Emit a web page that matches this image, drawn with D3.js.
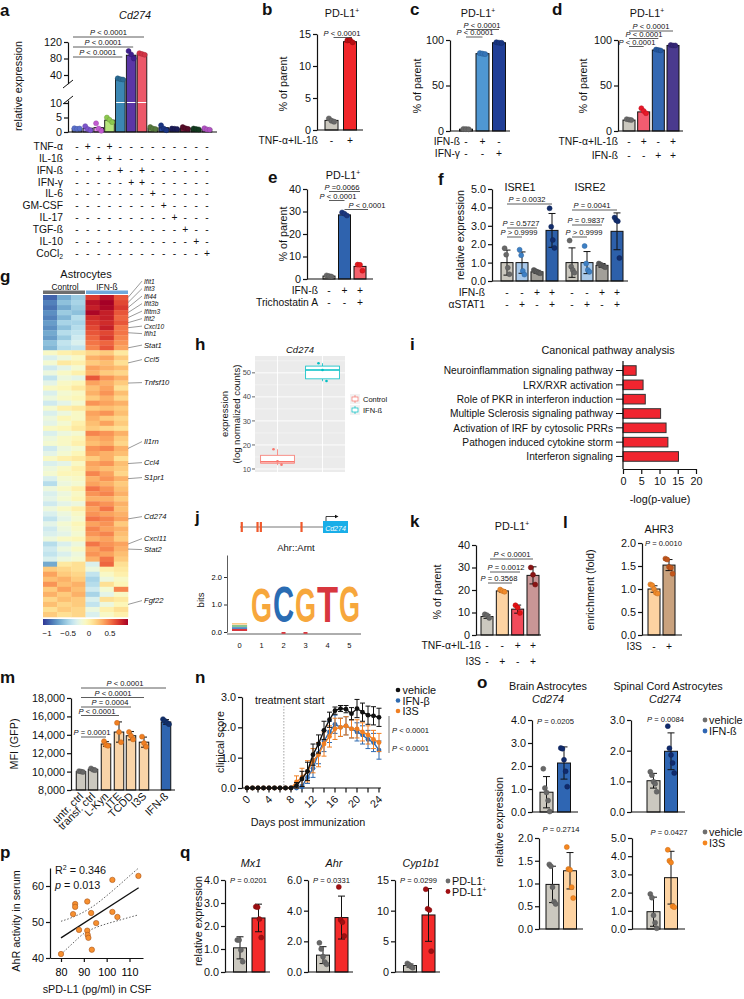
<!DOCTYPE html>
<html><head><meta charset="utf-8">
<script src="https://cdn.jsdelivr.net/npm/d3@7"></script>
<style>body{margin:0;background:#fff}svg{display:block}</style>
</head><body>
<script>
// ================= DATA =================
// a
const aTreat = ["TNF-α","IL-1ß","IFN-ß","IFN-γ","IL-6","GM-CSF","IL-17","TGF-ß","IL-10","CoCl"];
const aSigns = ["-+-+---------","--++---------","----+-+------","-----++------","-------+-----",
  "--------+----","---------+---","----------+--","-----------+-","------------+"];
const aValues = [1.2,1.3,1.5,4.1,31,88,91,1.3,1.5,1.1,1.4,1.0,1.0];
const aDots = [[1.3,1.1,1.2],[2.0,1.0,0.6],[3.0,1.2,0.4],[5.0,4.2,3.4],[32,30,29],[98,90,80],[93,91,89],
  [1.7,1.2,1.0],[2.3,1.2,0.6],[1.2,1.1,1.0],[1.7,1.3,1.1],[1.2,1.0,0.9],[1.3,0.9,0.8]];
const aTicksHi = [40,80,120], aTicksLo = [0,5,10];
const aP = ["P < 0.0001","P < 0.0001","P < 0.0001"], aPTo = [6,5,4];
// b
const bVals = [1.5,13.8], bDots = [[1.8,1.45,1.3],[14.0,14.05,13.7]], bSigns = ["-+"];
// c
const cVals = [2,85,97], cDots = [[2.2,2,1.9],[85.5,85,84.5],[97.5,97,96.8]], cSigns = ["-+-","--+"];
// d
const dVals = [12,21,89,94], dDots = [[13,12.5,12],[25,22,19.5],[89.5,89,88.5],[94.5,94,94]], dSigns = ["-+-+","--++"];
// e
const eVals = [1.3,28.5,5.6], eDots = [[1.6,1.3,1.1],[29.6,29,28.2],[6.4,6.3,3.7]], eSigns = ["-++","--+"];
// f
const fVals = [1.0,1.0,0.5,2.75,1.0,1.0,0.85,2.7];
const fSD = [0.68,0.58,0.08,0.92,0.8,0.6,0.1,1.0];
const fDots = [[1.78,1.43,0.72,0.37],[1.7,1.4,0.55,0.35],[0.6,0.55,0.5,0.45,0.42],[3.95,2.95,2.23,1.8],
  [2.2,0.78,0.6,0.45],[1.9,0.95,0.6,0.5],[0.95,0.9,0.85,0.8,0.75],[3.45,3.3,3.25,1.25]];
const fSigns = ["--++--++","-+-+-+-+"];
// g heatmap (z-scores, 3 control + 3 IFN-ß columns)
const gCols = ["C1","C2","C3","I1","I2","I3"];
const gRows = [
[-0.95,-0.7,-0.55,0.7,0.85,0.6],[-0.85,-0.6,-0.5,0.85,0.95,0.65],[-0.9,-0.7,-0.55,0.8,0.9,0.7],
[-0.8,-0.55,-0.6,0.9,0.8,0.6],[-0.85,-0.65,-0.45,0.75,0.8,0.55],[-0.75,-0.5,-0.5,0.7,0.75,0.6],
[-0.8,-0.6,-0.45,0.65,0.8,0.5],[-0.7,-0.45,-0.4,0.6,0.65,0.5],[-0.75,-0.55,-0.35,0.55,0.7,0.45],
[-0.6,-0.4,-0.3,0.5,0.55,0.4],[-0.65,-0.45,-0.4,0.45,0.6,0.35],
[-0.1,0.0,0.05,0.15,0.2,0.05],[-0.3,-0.2,-0.1,0.3,0.35,0.2],[-0.15,0.05,0.0,0.2,0.25,0.1],
[-0.35,-0.25,-0.15,0.35,0.3,0.25],[-0.2,-0.1,0.0,0.3,0.2,0.15],[-0.4,-0.2,-0.25,0.6,0.4,0.3],
[-0.25,-0.1,-0.05,0.35,0.3,0.2],[-0.1,-0.05,0.05,0.25,0.35,0.1],[-0.3,-0.15,-0.1,0.3,0.4,0.25],
[-0.2,-0.1,-0.05,0.2,0.3,0.15],[-0.35,-0.25,-0.15,0.4,0.35,0.3],[-0.15,0.0,0.05,0.2,0.25,0.2],
[-0.3,-0.2,-0.1,0.35,0.4,0.25],[-0.2,-0.05,-0.1,0.3,0.2,0.15],[-0.25,-0.15,0.0,0.25,0.35,0.2],
[-0.1,-0.05,0.05,0.2,0.15,0.1],[-0.3,-0.2,-0.15,0.45,0.4,0.3],[-0.2,-0.1,-0.05,0.3,0.35,0.2],
[-0.15,-0.1,0.0,0.25,0.3,0.15],[-0.35,-0.2,-0.15,0.4,0.45,0.3],[-0.25,-0.15,-0.05,0.35,0.3,0.25],
[-0.1,0.0,0.05,0.2,0.3,0.1],[-0.3,-0.25,-0.1,0.35,0.4,0.25],[-0.2,-0.1,0.0,0.3,0.25,0.2],
[-0.15,-0.05,-0.05,0.45,0.35,0.15],[-0.3,-0.15,-0.1,0.3,0.4,0.3],[-0.45,-0.2,-0.15,0.35,0.3,0.2],
[-0.2,-0.1,0.0,0.5,0.4,0.25],[-0.3,-0.2,-0.1,0.4,0.45,0.3],[-0.25,-0.15,-0.05,0.3,0.3,0.2],
[-0.35,-0.25,-0.2,0.45,0.4,0.3],[-0.2,-0.1,0.0,0.35,0.5,0.25],[-0.3,-0.2,-0.1,0.4,0.35,0.3],
[-0.4,-0.25,-0.15,0.5,0.45,0.35],[-0.25,-0.15,-0.05,0.35,0.4,0.2],[-0.35,-0.2,-0.1,0.45,0.35,0.3],
[-0.3,-0.25,-0.15,0.4,0.45,0.25],[-0.2,-0.1,-0.05,0.3,0.35,0.2],[-0.45,-0.3,-0.2,0.5,0.4,0.35],
[-0.35,-0.2,-0.1,0.35,0.45,0.3],[-0.4,-0.3,-0.2,0.4,0.35,0.25],[-0.3,-0.2,-0.15,0.3,0.5,0.2],
[-0.7,0.05,0.1,-0.3,0.55,0.1],[0.2,0.15,0.1,-0.2,0.0,0.05],[0.35,0.2,0.15,-0.4,-0.1,0.0],
[0.25,0.3,0.2,-0.5,-0.2,-0.1],[0.4,0.25,0.3,-0.45,0.1,-0.05],[0.2,0.35,0.25,-0.35,-0.15,0.45],
[0.3,0.2,0.3,-0.5,-0.25,-0.1],[0.15,0.25,0.2,-0.3,0.1,0.05],[0.25,0.15,0.2,-0.4,-0.2,-0.05],
[0.1,0.2,0.15,-0.2,0.0,0.1],[0.2,0.1,0.15,-0.3,-0.1,0.0]];
const gGenes = ["Ifit1","Ifit3","Ifi44","Ifit3b","Ifitm3","Ifit2","Cxcl10","Ifih1","Stat1","Ccl5","Tnfsf10",
  "Il1rn","Ccl4","S1pr1","Cd274","Cxcl11","Stat2","Fgf22"];
const gGeneRow = [0,1,2,3,4,5,6,7,10,13,17,30,33,36,44,49,50,61];
const gLegendTicks = [-1,-0.5,0,0.5];
// h
const hGroups = ["Control","IFN-ß"];
const hStats = [[11.6,12.4,13.0,15.7,18.2],[46.5,47.5,51.2,52.8,54.0]];
const hPoints = [[18.2,13.2,11.8],[54.0,51.2,46.6]];
const hTicks = [10,20,30,40,50];
// i
const iPaths = ["Neuroinflammation signaling pathway","LRX/RXR activation","Role of PKR in interferon induction",
  "Multiple Sclerosis signaling pathway","Activation of IRF by cytosolic PRRs","Pathogen induced cytokine storm","Interferon signaling"];
const iVals = [3.6,5.5,6.1,10.3,11.8,12.3,15.2];
const iTicks = [0,5,10,15,20];
// j
const jLetters = ["G","C","G","T","G"], jBits = [1.95,1.97,1.95,2.0,1.97];
const jPos = [0,1,2,3,4,5], jExons = [2,21,25,74];
// k
const kVals = [8.2,19.6,11.5,26.5], kSD = [0.8,0.5,1.8,3.8];
const kDots = [[9.2,8.8,7.6],[20.2,19.6,19.2],[13.2,12.2,9.8],[30,26.8,22.4]];
const kSigns = ["--++","-+-+"];
// l
const lVals = [1.0,1.52], lSD = [0.07,0.12];
const lDots = [[1.1,1.08,1.0,0.92,0.9],[1.66,1.64,1.48,1.46,1.33]];
// m
const mLabels = ["untr. ctrl","transf. ctrl","L-Kyn","ITE","TCDD","I3S","IFN-ß"];
const mVals = [10000,10250,13000,14300,13900,13200,15400], mSD = [60,120,250,1100,450,550,250];
const mDots = [[10050,10000,9950],[10350,10200,10150],[13300,12900,12800],[15300,14300,13200],
  [14300,13900,13500],[13800,13100,12700],[15700,15500,15300,15150]];
const mP = ["P < 0.0001","P < 0.0001","P = 0.0004","P < 0.0001","P = 0.0001"], mPTo = [6,5,4,3,2];
// n
const nDays = d3.range(0,25);
const nVehicle = [0,0,0,0,0,0,0,0,0,0.08,0.3,0.55,1.1,1.45,1.9,2.25,2.55,2.62,2.6,2.45,2.62,2.5,2.4,2.38,2.33];
const nVehSD  = [0,0,0,0,0,0,0,0,0,0.1,0.25,0.3,0.35,0.3,0.3,0.25,0.12,0.1,0.12,0.2,0.3,0.3,0.3,0.3,0.3];
const nIFN = [0,0,0,0,0,0,0,0,0,0,0.05,0.35,0.65,1.15,1.55,1.85,2.1,2.0,2.05,1.95,1.85,1.75,1.6,1.5,1.25];
const nIFNSD = [0,0,0,0,0,0,0,0,0,0,0.05,0.2,0.3,0.35,0.35,0.35,0.3,0.3,0.3,0.3,0.3,0.3,0.3,0.3,0.3];
const nI3S = [0,0,0,0,0,0,0,0,0,0.2,0.35,0.55,0.9,1.1,1.45,1.7,1.95,2.0,2.05,1.95,1.95,1.85,1.75,1.6,1.5];
const nI3SSD = [0,0,0,0,0,0,0,0,0,0.2,0.3,0.35,0.4,0.4,0.4,0.35,0.35,0.3,0.3,0.3,0.3,0.3,0.3,0.3,0.3];
// o
const o1Vals = [0.86,2.13], o1SD = [0.68,0.7], o1Dots = [[1.88,1.04,0.85,0.5,0.02],[2.78,2.75,2.27,1.77,1.1]];
const o2Vals = [1.02,1.98], o2SD = [0.24,0.6], o2Dots = [[1.31,1.2,0.99,0.92,0.66],[2.8,2.08,1.86,1.6,1.27]];
const o3Vals = [0.98,1.28], o3SD = [0.4,0.4], o3Dots = [[1.42,1.38,0.92,0.6,0.55],[1.8,1.32,1.3,0.92,0.68]];
const o4Vals = [0.95,2.82], o4SD = [0.8,1.45], o4Dots = [[1.92,1.72,0.75,0.35,0.04],[4.35,3.75,3.65,1.25,1.2]];
// p
const pX = [80,85.3,86.2,86.2,87.9,91.5,91.5,91.7,92,93.2,93.5,95.4,102.5,104.7,102.5,113.9];
const pY = [41.1,52.2,55,54.2,47.8,55.7,47.6,46.4,45.6,52.5,42.3,49.7,52.8,51.4,61.7,62.8];
const pFitX = [80,114], pFitY = [45.6,59.5];
const pBandX = [80,85,90,95,100,105,110,114];
const pBandHi = [50.2,51.3,52.8,54.8,57.3,60,62.8,65];
const pBandLo = [41,44,46.8,48.4,49.5,50.4,51.3,52];
// q
const qGenes = ["Mx1","Ahr","Cyp1b1"], qP = ["P = 0.0201","P = 0.0331","P = 0.0299"];
const qVals = [[1.05,2.35],[1.1,3.55],[1.05,9.3]], qSD = [[0.48,0.6],[0.55,1.4],[0.25,4.3]];
const qDots = [[[1.39,1.39,0.96,0.45],[2.84,2.82,2.3,1.5]],[[1.9,1.5,1.0,0.65,0.5],[5.55,3.4,3.25,2.35]],
  [[1.4,1.2,0.9,0.7],[13.5,10.3,10.1,3.4]]];
const qTicks = [[0,1,2,3,4],[0,2,4,6],[0,5,10,15]], qMax = [4,6,15];

// ================= HELPERS =================
const INK = "#111", FS = 10.8, PFS = 7.6, TFS = 10.3;
const GREY = "#cbc8bf", GREYDOT = "#686868";
const svg = d3.select("body").append("svg").attr("width",744).attr("height",999)
  .attr("font-family","'Liberation Sans', Arial, Helvetica, sans-serif");

function txt(x,y,s,o={}){
  const t = svg.append("text").attr("x",x).attr("y",y).attr("font-size",o.fs||FS)
    .attr("text-anchor",o.a||"start").attr("fill",o.fill||INK);
  if(o.it) t.attr("font-style","italic");
  if(o.b) t.attr("font-weight","bold");
  if(o.rot) t.attr("transform",`rotate(${o.rot},${x},${y})`);
  t.text(s); return t;
}
function panel(x,y,s){ txt(x,y,s,{fs:17,b:true}); }
function ylab(cx,cy,s,fs=FS){ return txt(cx+fs*0.36,cy,s,{fs,a:"middle",rot:-90}); }
function supT(x,y,base,sp,o={}){ const t=txt(x,y,base,o); t.append("tspan").attr("dy",-4).attr("font-size",(o.fs||FS)*0.62).text(sp); return t; }
function pLab(x,y,s,a="middle",fs=PFS){
  const t = svg.append("text").attr("x",x).attr("y",y).attr("font-size",fs).attr("text-anchor",a).attr("fill",INK);
  t.append("tspan").attr("font-style","italic").text(s[0]);
  t.append("tspan").text(s.slice(1)); return t;
}
function line(x1,y1,x2,y2,o={}){
  return svg.append("line").attr("x1",x1).attr("y1",y1).attr("x2",x2).attr("y2",y2)
    .attr("stroke",o.c||INK).attr("stroke-width",o.w||1.2).attr("stroke-dasharray",o.dash||null);
}
function pAnn(s,x1,x2,yl,tx){ line(x1,yl,x2,yl,{w:0.8,c:"#333"}); pLab(tx!==undefined?tx:(x1+x2)/2, yl-1.6, s); }
function yAxis(scale,x,ticks,fmt,fs=FS){
  const ax = d3.axisLeft(scale).tickValues(ticks).tickSize(4).tickSizeOuter(0).tickPadding(2);
  if(fmt) ax.tickFormat(fmt);
  const g = svg.append("g").attr("transform",`translate(${x},0)`).call(ax);
  g.attr("font-family",null).attr("font-size",fs);
  g.select(".domain").attr("stroke",INK).attr("stroke-width",1.2);
  g.selectAll(".tick line").attr("stroke",INK).attr("stroke-width",1.2);
  g.selectAll(".tick text").attr("fill",INK);
  return g;
}
function xBase(x1,x2,y){ line(x1,y,x2,y); }
function bars(xs,vals,y,w,fills,base){
  const b0 = y(base!==undefined?base:y.domain()[0]);
  svg.append("g").selectAll("rect").data(vals).join("rect")
    .attr("x",(d,i)=>xs[i]-w/2).attr("y",d=>y(d)).attr("width",w).attr("height",d=>b0-y(d))
    .attr("fill",(d,i)=>fills[i]).attr("stroke",INK).attr("stroke-width",1);
}
function errs(xs,vals,sds,y,cap=3.5){
  const g = svg.append("g").attr("stroke",INK).attr("stroke-width",1);
  vals.forEach((v,i)=>{
    const lo=y(Math.max(y.domain()[0],v-sds[i])), hi=y(v+sds[i]);
    g.append("line").attr("x1",xs[i]).attr("x2",xs[i]).attr("y1",lo).attr("y2",hi);
    g.append("line").attr("x1",xs[i]-cap).attr("x2",xs[i]+cap).attr("y1",hi).attr("y2",hi);
    g.append("line").attr("x1",xs[i]-cap).attr("x2",xs[i]+cap).attr("y1",lo).attr("y2",lo);
  });
}
function dots(xs,arrs,y,fills,r=2.6,spread=2.6){
  const flat=[];
  arrs.forEach((arr,i)=>arr.forEach((v,j)=>flat.push({x:xs[i]+(j-(arr.length-1)/2)*spread,v,c:fills[i]})));
  svg.append("g").selectAll("circle").data(flat).join("circle")
    .attr("cx",d=>d.x).attr("cy",d=>y(d.v)).attr("r",r).attr("fill",d=>d.c)
    .attr("stroke",d=>d3.color(d.c).darker(0.6)).attr("stroke-width",0.5);
}
function signTable(labels,rows,xs,y0,dy,right,fs=TFS){
  rows.forEach((row,r)=>{
    const yy = y0 + r*dy;
    txt(right,yy,labels[r],{a:"end",fs});
    row.split("").forEach((ch,j)=>txt(xs[j],yy,ch==="-"?"-":"+",{a:"middle",fs}));
  });
}
const dot = d3.format(".1f");

// ================= PANEL a =================
panel(0,16,"a");
txt(135,19,"Cd274",{it:true,a:"middle"});
ylab(18,86,"relative expression");
const aX = d3.scalePoint().domain(d3.range(aValues.length)).range([77,207]);
const aXs = aValues.map((d,i)=>aX(i));
const aYL = d3.scaleLinear().domain([0,10]).range([132,103]);
const aYU = d3.scaleLinear().domain([40,120]).range([75,42]);
yAxis(aYL.copy().domain([0,11]).range([132,aYL(11)]),68,aTicksLo);
yAxis(aYU.copy().domain([19,120]).range([aYU(19),42]),68,aTicksHi);
line(63,88,73,80,{w:1});
line(63,104,73,96,{w:1});
const aFill = ["#8196de","#a78de2","#e193e2","#b7e67c","#3b87b3","#5b36a6","#ec5869","#76975a","#29499e","#2a2c72","#721a3a","#1f4c30","#cd80d8"];
const aDotC = ["#5a6fcc","#7d55cc","#c25ad0","#8cc84e","#2a6b94","#3f1f8e","#d23446","#587a3e","#1b3583","#1b1c58","#560c28","#123a1f","#b052c2"];
svg.append("g").selectAll("rect").data(aValues).join("rect")
  .attr("x",(d,i)=>aXs[i]-4.8).attr("width",9.6)
  .attr("y",d=>d>10?aYU(d):aYL(d)).attr("height",d=>132-(d>10?aYU(d):aYL(d)))
  .attr("fill",(d,i)=>aFill[i]).attr("stroke",INK).attr("stroke-width",0.9);
aValues.forEach((v,i)=>{ if(v>10) line(aXs[i]-4.2,102.5,aXs[i]+4.2,102.5,{c:"#fff",w:1}); });
xBase(68,217,132);
{
  const flat=[]; aDots.forEach((arr,i)=>arr.forEach((v,j)=>flat.push({x:aXs[i]+(j-1)*2.6,y:aValues[i]>10?aYU(v):aYL(v),c:aDotC[i]})));
  svg.append("g").selectAll("circle").data(flat).join("circle").attr("cx",d=>d.x).attr("cy",d=>d.y).attr("r",2.5)
    .attr("fill",d=>d.c).attr("stroke",d=>d3.color(d.c).darker(0.6)).attr("stroke-width",0.5);
}
aP.forEach((s,k)=>pAnn(s,73,aXs[aPTo[k]]+2,37+k*10));
aSigns.forEach((row,r)=>{
  const yy = 150 + r*11.85;
  const t = txt(63,yy,aTreat[r],{a:"end",fs:TFS});
  if(r===9) t.append("tspan").attr("font-size",6.8).attr("dy",2.5).text("2");
  row.split("").forEach((ch,j)=>txt(aXs[j],yy,ch,{a:"middle",fs:TFS}));
});

// ================= PANEL b =================
panel(262,15,"b");
supT(342,17,"PD-L1","+",{a:"middle"});
const bX = d3.scalePoint().domain([0,1]).range([331.5,350]);
const bXs = bVals.map((d,i)=>bX(i));
const bY = d3.scaleLinear().domain([0,15]).range([130,34]);
yAxis(bY,317,[0,5,10,15]);
bars(bXs,bVals,bY,13,[GREY,"#f0262a"]);
xBase(317,363,130);
dots(bXs,bDots,bY,[GREYDOT,"#b80d12"]);
pAnn("P < 0.0001",bXs[0]+2,bXs[1]+2,37.5,342);
signTable(["TNF-α+IL-1ß"],bSigns,bXs,144,12,318);
ylab(283,84,"% of parent");

// ================= PANEL c =================
panel(410,15,"c");
supT(478,17,"PD-L1","+",{a:"middle"});
const cX = d3.scalePoint().domain([0,1,2]).range([466,499]);
const cXs = cVals.map((d,i)=>cX(i));
const cY = d3.scaleLinear().domain([0,100]).range([131,40]);
yAxis(cY,450,[0,50,100]);
bars(cXs,cVals,cY,13,[GREY,"#4f97d2","#213f96"]);
xBase(450,510,131);
dots(cXs,cDots,cY,[GREYDOT,"#3575b8","#18347f"]);
pAnn("P < 0.0001",cXs[0],cXs[2],29.5,482);
pAnn("P < 0.0001",cXs[0],cXs[1],37,475);
signTable(["IFN-ß","IFN-γ"],cSigns,cXs,145,12,460);
ylab(417,86,"% of parent");

// ================= PANEL d =================
panel(552,15,"d");
supT(647,17,"PD-L1","+",{a:"middle"});
const dX = d3.scalePoint().domain([0,1,2,3]).range([629,673]);
const dXs = dVals.map((d,i)=>dX(i));
const dY = d3.scaleLinear().domain([0,100]).range([131,40]);
yAxis(dY,618,[0,50,100]);
bars(dXs,dVals,dY,12,[GREY,"#f35c70","#3468b2","#4a3a8e"]);
xBase(618,683,131);
dots(dXs,dDots,dY,[GREYDOT,"#e81828","#24579f","#352677"],2.5,2.3);
pAnn("P < 0.0001",dXs[0],dXs[3],31,651);
pAnn("P < 0.0001",dXs[0],dXs[2],38.5,644);
pAnn("P < 0.0001",dXs[0],dXs[1],46.5,637);
signTable(["TNF-α+IL-1ß","IFN-ß"],dSigns,dXs,145,14,618);
ylab(583,86,"% of parent");

// ================= PANEL e =================
panel(268,183,"e");
supT(343,179,"PD-L1","+",{a:"middle"});
const eX = d3.scalePoint().domain([0,1,2]).range([329,360]);
const eXs = eVals.map((d,i)=>eX(i));
const eY = d3.scaleLinear().domain([0,40]).range([279,189]);
yAxis(eY,307,[0,10,20,30,40]);
bars(eXs,eVals,eY,12,[GREY,"#2f63ae","#f5616b"]);
xBase(307,373,279);
dots(eXs,eDots,eY,[GREYDOT,"#1b377e","#e4191e"],2.5,2.4);
pAnn("P =0.0066",eXs[0],eXs[2],191.5,342);
pAnn("P < 0.0001",eXs[0],eXs[1],200.5,338);
pAnn("P < 0.0001",eXs[1],eXs[2]+8,209.5,367);
signTable(["IFN-ß","Trichostatin A"],eSigns,eXs,294,12,318);
ylab(283,234,"% of parent");

// ================= PANEL f =================
panel(438,185,"f");
const fXs = [507,522,537,552,572,587,602,617];
const fY = d3.scaleLinear().domain([0,5]).range([281,189]);
yAxis(fY,492,[0,1,2,3,4,5]);
const fFill = [GREY,"#a9c9ea","#a29f99","#2d60aa",GREY,"#a9c9ea","#a29f99","#2d60aa"];
const fDotC = [GREYDOT,"#3d7fc4","#5a5a5a","#122d6c",GREYDOT,"#3d7fc4","#5a5a5a","#122d6c"];
bars(fXs,fVals,fY,12,fFill);
xBase(492,628,281);
errs(fXs,fVals,fSD,fY,3.5);
dots(fXs,fDots,fY,fDotC,2.5,1.6);
txt(520,191,"ISRE1",{a:"middle"});
txt(590,191,"ISRE2",{a:"middle"});
pAnn("P = 0.0032",fXs[0],fXs[3],204,527);
pAnn("P = 0.5727",fXs[0],fXs[2],228,521);
pAnn("P > 0.9999",fXs[0],fXs[1],237,519);
pAnn("P = 0.0041",fXs[4],fXs[7],210,592);
pAnn("P = 0.9837",fXs[4],fXs[6],225,586);
pAnn("P > 0.9999",fXs[4],fXs[5],237,584);
signTable(["IFN-ß","αSTAT1"],fSigns,fXs,295.5,12,485);
ylab(460,235,"relative expression");

// ================= PANEL g =================
panel(0,282,"g");
txt(86,278,"Astrocytes",{a:"middle",fs:11});
txt(65,289.5,"Control",{a:"middle",fs:8.4});
txt(107,289.5,"IFN-ß",{a:"middle",fs:8.4});
svg.append("rect").attr("x",43).attr("y",290.5).attr("width",42).attr("height",3.5).attr("fill","#6e6e6e");
svg.append("rect").attr("x",86).attr("y",290.5).attr("width",42).attr("height",3.5).attr("fill","#6fa8da");
const gX = d3.scaleBand().domain(gCols).range([43,128]);
const gY = d3.scaleBand().domain(d3.range(gRows.length)).range([295,617]);
const gColor = d3.scaleSequential(t=>d3.interpolateRdYlBu(1-t)).domain([-1.1,0.93]);
{
  const cells=[]; gRows.forEach((row,r)=>row.forEach((v,c)=>cells.push({r,c,v})));
  svg.append("g").selectAll("rect").data(cells).join("rect")
    .attr("x",d=>gX(gCols[d.c])).attr("y",d=>gY(d.r)).attr("width",gX.bandwidth()+0.3).attr("height",gY.bandwidth()+0.3)
    .attr("fill",d=>gColor(d.v));
}
{
  const defs = svg.append("defs");
  const lg = defs.append("linearGradient").attr("id","gleg");
  d3.range(0,1.0001,0.05).forEach(t=>lg.append("stop").attr("offset",t).attr("stop-color",gColor(-1.1+t*2.03)));
  svg.append("rect").attr("x",43).attr("y",619).attr("width",85).attr("height",6).attr("fill","url(#gleg)");
  const lx = d3.scaleLinear().domain([-1.1,0.93]).range([43,128]);
  gLegendTicks.forEach(v=>txt(lx(v),636,v===0?"0":String(v).replace("-","−"),{a:"middle",fs:8}));
}
{
  const labY = [283.5,291,298.5,306,313.5,321,328.5,336,347.5,362,385,444,465,480,519,541,552,603];
  gGenes.forEach((gname,i)=>{
    const ry = gY(gGeneRow[i])+gY.bandwidth()/2;
    line(128,ry,142,labY[i]-2.4,{w:0.6,c:"#555"});
    txt(144,labY[i],gname,{it:true,fs:i<8?6.6:7.6});
  });
}

// ================= PANEL h =================
panel(195,350,"h");
txt(300,353,"Cd274",{it:true,a:"middle",fs:9.5});
const hX = d3.scaleBand().domain(hGroups).range([255,345]);
const hY = d3.scaleLinear().domain([8.75,57]).range([472,356]);
svg.append("rect").attr("x",255).attr("y",356).attr("width",90).attr("height",116).attr("fill","#ebebeb");
[15,25,35,45,55].forEach(v=>line(255,hY(v),345,hY(v),{c:"#fff",w:0.4}));
hTicks.forEach(v=>line(255,hY(v),345,hY(v),{c:"#fff",w:0.9}));
hGroups.forEach(gp=>line(hX(gp)+hX.bandwidth()/2,356,hX(gp)+hX.bandwidth()/2,472,{c:"#fff",w:0.9}));
hTicks.forEach(v=>{ line(252,hY(v),255,hY(v),{c:"#444",w:0.8}); txt(251,hY(v)+2.6,v,{a:"end",fs:7.5,fill:"#4d4d4d"}); });
const hCol = ["#f8766d","#00bfc4"];
hGroups.forEach((gp,i)=>{
  const cx = hX(gp)+hX.bandwidth()/2, bw = hX.bandwidth()*0.75, s = hStats[i];
  line(cx,hY(s[0]),cx,hY(s[1]),{c:hCol[i],w:0.8});
  line(cx,hY(s[3]),cx,hY(s[4]),{c:hCol[i],w:0.8});
  svg.append("rect").attr("x",cx-bw/2).attr("y",hY(s[3])).attr("width",bw).attr("height",hY(s[1])-hY(s[3]))
    .attr("fill","#fff").attr("stroke",hCol[i]).attr("stroke-width",0.8);
  line(cx-bw/2,hY(s[2]),cx+bw/2,hY(s[2]),{c:hCol[i],w:1.4});
  hPoints[i].forEach((v,j)=>svg.append("circle").attr("cx",cx+(j-1)*4).attr("cy",hY(v)).attr("r",1.3).attr("fill",hCol[i]));
});
ylab(225,414,"expression",9.5);
ylab(237,414,"(log normalized counts)",9.5);
hGroups.forEach((gp,i)=>{
  const ky = 394+i*11;
  svg.append("rect").attr("x",350).attr("y",ky).attr("width",10).attr("height",10).attr("fill","#f2f2f2");
  line(355,ky+1,355,ky+9,{c:hCol[i],w:0.7});
  svg.append("rect").attr("x",352).attr("y",ky+3).attr("width",6).attr("height",4).attr("fill","#fff").attr("stroke",hCol[i]).attr("stroke-width",0.7);
  txt(363,ky+7.8,gp,{fs:7.5});
});

// ================= PANEL i =================
panel(410,350,"i");
txt(608,354,"Canonical pathway analysis",{a:"middle"});
const iY = d3.scaleBand().domain(iPaths).range([361,466]).padding(0.33);
const iX = d3.scaleLinear().domain([0,20]).range([623,696]);
svg.append("g").selectAll("rect").data(iVals).join("rect")
  .attr("x",iX(0)).attr("y",(d,i)=>iY(iPaths[i])).attr("height",iY.bandwidth()).attr("width",d=>iX(d)-iX(0))
  .attr("fill","#f1252f").attr("stroke","#333").attr("stroke-width",1);
line(623,361,623,469);
iPaths.forEach(p=>{ const yy=iY(p)+iY.bandwidth()/2; line(616,yy,623,yy,{w:1}); txt(613,yy+3.7,p,{a:"end",fs:10.2}); });
{
  const g = svg.append("g").attr("transform","translate(0,469)")
    .call(d3.axisBottom(iX).tickValues(iTicks).tickSize(5).tickSizeOuter(0).tickPadding(3));
  g.attr("font-family",null).attr("font-size",FS);
  g.select(".domain").attr("stroke",INK).attr("stroke-width",1.2);
  g.selectAll(".tick line").attr("stroke",INK).attr("stroke-width",1.2);
  g.selectAll(".tick text").attr("fill",INK);
}
txt(660,503,"-log(p-value)",{a:"middle"});

// ================= PANEL j =================
panel(195,523,"j");
{
  const gx = d3.scaleLinear().domain([0,100]).range([240,323]);
  line(240,527,323,527,{c:"#777",w:1});
  jExons.forEach(e=>svg.append("rect").attr("x",gx(e)-1).attr("y",522).attr("width",2.2).attr("height",10).attr("fill","#f0592b"));
  svg.append("rect").attr("x",323).attr("y",521).attr("width",25).attr("height",12).attr("fill","#19aee8");
  txt(335.5,530.5,"Cd274",{a:"middle",fs:7,it:true,fill:"#fff"});
  svg.append("path").attr("d","M326,521 V516.5 H336").attr("fill","none").attr("stroke","#111").attr("stroke-width",0.8);
  svg.append("path").attr("d","M335,514.8 L338.5,516.5 L335,518.2 Z").attr("fill","#111");
  txt(296,551,"Ahr::Arnt",{a:"middle",fs:9.5});
}
const jX = d3.scaleBand().domain(jPos).range([229,360]).paddingInner(0.04);
const jY = d3.scaleLinear().domain([0,2.8]).range([632,555]);
{
  const g = svg.append("g").attr("transform","translate(227,0)")
    .call(d3.axisLeft(jY).tickValues([0,1,2]).tickFormat(dot).tickSize(3).tickSizeOuter(0).tickPadding(2));
  g.attr("font-family",null).attr("font-size",7.5);
  g.select(".domain").attr("stroke","#333").attr("stroke-width",0.8);
  g.selectAll(".tick line").attr("stroke","#333");
  line(227,634,361,634,{c:"#333",w:0.8});
  jPos.forEach(p=>txt(jX(p)+jX.bandwidth()/2,648,p,{a:"middle",fs:7.5}));
  ylab(201,600,"bits",9.5);
  const jCol = {G:"#f7a73c",C:"#2a6cb3",T:"#d8373e",A:"#3aa04a"};
  jLetters.forEach((L,i)=>{
    const p = jPos[i+1], x0 = jX(p), w = jX.bandwidth(), h = jY(0)-jY(jBits[i]);
    const t = svg.append("text").attr("font-size",40).attr("font-weight","bold").attr("fill",jCol[L]).text(L);
    const bb = t.node().getBBox();
    t.attr("transform",`translate(${x0},${jY(jBits[i])}) scale(${w/bb.width},${h/bb.height}) translate(${-bb.x},${-bb.y})`);
  });
  [["#d8373e",2],["#2a6cb3",1.5],["#3aa04a",1.2],["#f7a73c",1]].forEach((d,k)=>{
    svg.append("rect").attr("x",jX(0)+3).attr("y",631-k*2.2-d[1]).attr("width",jX.bandwidth()-6).attr("height",d[1]).attr("fill",d[0]);
  });
  [2,3].forEach(p=>svg.append("rect").attr("x",jX(p)+jX.bandwidth()/2-2).attr("y",632).attr("width",4).attr("height",1.8).attr("fill","#d8373e"));
}

// ================= PANEL k =================
panel(410,527,"k");
supT(512,530,"PD-L1","+",{a:"middle"});
const kX = d3.scalePoint().domain([0,1,2,3]).range([487,533]);
const kXs = kVals.map((d,i)=>kX(i));
const kY = d3.scaleLinear().domain([0,40]).range([635,545]);
yAxis(kY,476,[0,10,20,30,40]);
bars(kXs,kVals,kY,12,[GREY,"#fdd3a2","#f24b5b","#c99696"]);
xBase(476,541,635);
errs(kXs,kVals,kSD,kY,3.5);
dots(kXs,kDots,kY,[GREYDOT,"#f08a2a","#e31013","#8a1414"],2.5,2.2);
pAnn("P < 0.0001",490,533,559,512);
pAnn("P = 0.0012",490,520,572,506);
pAnn("P = 0.3568",488,512,583,499);
signTable(["TNF-α+IL-1ß","I3S"],kSigns,kXs,649,15.5,481);
ylab(437,592,"% of parent");

// ================= PANEL l =================
panel(563,528,"l");
txt(659,533,"AHR3",{a:"middle"});
const lX = d3.scalePoint().domain([0,1]).range([654,669]);
const lXs = lVals.map((d,i)=>lX(i));
const lY = d3.scaleLinear().domain([0,2]).range([635,543]);
yAxis(lY,642,[0,0.5,1,1.5,2],dot);
bars(lXs,lVals,lY,12,["#fdd3a2","#c9a27e"]);
xBase(642,682,635);
errs(lXs,lVals,lSD,lY,3.5);
dots(lXs,lDots,lY,["#f08a2a","#c2561b"],2.5,1.8);
pLab(645,545.5,"P = 0.0010","start");
signTable(["I3S"],["-+"],lXs,650,12,642);
ylab(590,590,"enrichment (fold)");

// ================= PANEL m =================
panel(0,683,"m");
const mXs = [81,93,106,119,131,144,166];
const mY = d3.scaleLinear().domain([8000,18000]).range([790,698]);
yAxis(mY,71,d3.range(8000,18001,2000));
bars(mXs,mVals,mY,9.5,[GREY,GREY,"#f9d4a8","#f9d4a8","#f9d4a8","#f9d4a8","#2f65b0"]);
xBase(71,175,790);
errs(mXs,mVals,mSD,mY,3);
dots(mXs,mDots,mY,[GREYDOT,GREYDOT,"#f07f22","#f07f22","#f07f22","#f07f22","#12306b"],2.5,2);
const mPy = [688,697.5,707,715.5,737], mTx = [125,113,110,97,92];
mP.forEach((s,k)=>pAnn(s,81,mXs[mPTo[k]],mPy[k],mTx[k]));
mLabels.forEach((s,i)=>txt(mXs[i]+3,797,s,{a:"end",rot:-45}));
ylab(14,744,"MFI (GFP)");

// ================= PANEL n =================
panel(195,683,"n");
const nX = d3.scaleLinear().domain([0,24]).range([247,379]);
const nY = d3.scaleLinear().domain([0,3]).range([788,697]);
yAxis(nY,242,[0,1,2,3]);
line(242,788,381,788);
d3.range(0,25,2).forEach(d=>line(nX(d),788,nX(d),792.5));
d3.range(0,25,4).forEach(d=>txt(nX(d)+4,800,d,{a:"end",rot:-45}));
txt(308,826,"Days post immunization",{a:"middle"});
ylab(220,742,"clinical score");
line(nX(6.7),706,nX(6.7),788,{c:"#999",w:0.9,dash:"1.5,1.5"});
txt(255,704,"treatment start");
function nSeries(vals,sds,col){
  const g = svg.append("g");
  vals.forEach((v,i)=>{ if(sds[i]>0){
    const x=nX(nDays[i]);
    g.append("line").attr("x1",x).attr("x2",x).attr("y1",nY(Math.max(0,v-sds[i]))).attr("y2",nY(v+sds[i])).attr("stroke",col).attr("stroke-width",1);
    g.append("line").attr("x1",x-2.5).attr("x2",x+2.5).attr("y1",nY(v+sds[i])).attr("y2",nY(v+sds[i])).attr("stroke",col).attr("stroke-width",1);
    g.append("line").attr("x1",x-2.5).attr("x2",x+2.5).attr("y1",nY(Math.max(0,v-sds[i]))).attr("y2",nY(Math.max(0,v-sds[i]))).attr("stroke",col).attr("stroke-width",1);
  }});
  g.append("path").datum(vals).attr("fill","none").attr("stroke",col).attr("stroke-width",1.4)
    .attr("d",d3.line().x((d,i)=>nX(nDays[i])).y(d=>nY(d)));
  g.selectAll("circle").data(vals).join("circle").attr("cx",(d,i)=>nX(nDays[i])).attr("cy",d=>nY(d)).attr("r",2.4).attr("fill",col);
}
nSeries(nIFN,nIFNSD,"#2f6ab0");
nSeries(nI3S,nI3SSD,"#f07f22");
nSeries(nVehicle,nVehSD,"#111");
[["vehicle","#111"],["IFN-β","#2f6ab0"],["I3S","#f07f22"]].forEach((d,i)=>{
  svg.append("circle").attr("cx",398).attr("cy",690+i*10.5).attr("r",2.3).attr("fill",d[1]);
  txt(402.5,694+i*10.5,d[0]);
});
line(389,716,389,753,{w:0.8,c:"#555"});
pLab(392,733,"P < 0.0001","start");
pLab(392,751,"P < 0.0001","start");

// ================= PANEL o =================
panel(477,688,"o");
txt(548,690,"Brain Astrocytes",{a:"middle"});
txt(548,703,"Cd274",{a:"middle",it:true});
txt(668,690,"Spinal Cord Astrocytes",{a:"middle"});
txt(665,703,"Cd274",{a:"middle",it:true});
function oPanel(ax,x0,xEnd,y,ticks,fmt,vals,sds,dts,fills,dotC,ptxt,px,py,pa){
  const xs=[x0,x0+17.5];
  yAxis(y,ax,ticks,fmt);
  bars(xs,vals,y,13,fills);
  xBase(ax,xEnd,y.range()[0]);
  errs(xs,vals,sds,y,3.5);
  dots(xs,dts,y,dotC,2.5,1.6);
  pLab(px,py,ptxt,pa);
}
oPanel(532,546.5,578,d3.scaleLinear().domain([0,4]).range([812,720]),[0,1,2,3,4],null,o1Vals,o1SD,o1Dots,[GREY,"#2f66b3"],[GREYDOT,"#102a6c"],"P = 0.0205",537,724,"start");
oPanel(631,653.5,685,d3.scaleLinear().domain([0,3]).range([812,720]),[0,1,2,3],null,o2Vals,o2SD,o2Dots,[GREY,"#2f66b3"],[GREYDOT,"#102a6c"],"P = 0.0084",647,722,"start");
oPanel(539,552.5,583,d3.scaleLinear().domain([0,2]).range([929,838]),[0,0.5,1,1.5,2],dot,o3Vals,o3SD,o3Dots,[GREY,"#fdd3a2"],[GREYDOT,"#f5861f"],"P = 0.2714",561,832,"middle");
oPanel(632,653.5,685,d3.scaleLinear().domain([0,5]).range([929,838]),[0,1,2,3,4,5],null,o4Vals,o4SD,o4Dots,[GREY,"#fdd3a2"],[GREYDOT,"#f5861f"],"P = 0.0427",669,835,"middle");
[["vehicle","#6e6e6e"],["IFN-ß","#2f66b3"]].forEach((d,i)=>{ svg.append("circle").attr("cx",705).attr("cy",720+i*11).attr("r",2.4).attr("fill",d[1]); txt(709,724+i*11,d[0]); });
[["vehicle","#6e6e6e"],["I3S","#f5861f"]].forEach((d,i)=>{ svg.append("circle").attr("cx",705).attr("cy",832+i*11).attr("r",2.4).attr("fill",d[1]); txt(709,836+i*11,d[0]); });
ylab(499,822,"relative expression");

// ================= PANEL p =================
panel(0,858,"p");
const pXs = d3.scaleLinear().domain([80,110]).range([61,129.5]);
const pYs = d3.scaleLinear().domain([40,60]).range([958,886]);
yAxis(pYs.copy().domain([40,65]).range([958,pYs(65)]),50,[40,50,60]);
{
  const g = svg.append("g").attr("transform","translate(0,958)")
    .call(d3.axisBottom(pXs.copy().domain([pXs.invert(50),pXs.invert(143)]).range([50,143])).tickValues([80,90,100,110]).tickSize(4).tickSizeOuter(0).tickPadding(6));
  g.attr("font-family",null).attr("font-size",FS);
  g.select(".domain").attr("stroke",INK).attr("stroke-width",1.2);
  g.selectAll(".tick line").attr("stroke",INK).attr("stroke-width",1.2);
}
txt(97,993,"sPD-L1 (pg/ml) in CSF",{a:"middle"});
ylab(16,921,"AhR activity in serum");
const pl = d3.line().x(d=>pXs(d[0])).y(d=>pYs(d[1])).curve(d3.curveMonotoneX);
svg.append("path").attr("d",pl(pBandX.map((x,i)=>[x,pBandHi[i]]))).attr("fill","none").attr("stroke","#333").attr("stroke-width",0.8).attr("stroke-dasharray","1.5,1.8");
svg.append("path").attr("d",pl(pBandX.map((x,i)=>[x,pBandLo[i]]))).attr("fill","none").attr("stroke","#333").attr("stroke-width",0.8).attr("stroke-dasharray","1.5,1.8");
svg.append("path").attr("d",pl(pFitX.map((x,i)=>[x,pFitY[i]]))).attr("fill","none").attr("stroke",INK).attr("stroke-width",1.3);
svg.append("g").selectAll("circle").data(pX).join("circle").attr("cx",d=>pXs(d)).attr("cy",(d,i)=>pYs(pY[i])).attr("r",2.7)
  .attr("fill","#f7902f").attr("stroke","#a8561c").attr("stroke-width",0.6);
{ const t = txt(55,874,"R"); t.append("tspan").attr("dy",-4).attr("font-size",7).text("2"); t.append("tspan").attr("dy",4).text(" = 0.346"); }
{ const t = svg.append("text").attr("x",55).attr("y",889).attr("font-size",FS).attr("fill",INK);
  t.append("tspan").attr("font-style","italic").text("p"); t.append("tspan").text(" = 0.013"); }

// ================= PANEL q =================
panel(180,858,"q");
const qAx = [225,308,395];
qGenes.forEach((gname,k)=>{
  const ax = qAx[k], xs=[ax+15,ax+33.5];
  const y = d3.scaleLinear().domain([0,qMax[k]]).range([972,880]);
  yAxis(y,ax,qTicks[k]);
  bars(xs,qVals[k],y,13,[GREY,"#f42a2a"]);
  xBase(ax,ax+45,972);
  errs(xs,qVals[k],qSD[k],y,3.5);
  dots(xs,qDots[k],y,[GREYDOT,"#a00f12"],2.5,1.8);
  txt(ax+26,867,gname,{a:"middle",it:true});
  pLab(ax+5,883,qP[k],"start");
});
[["PD-L1","-","#6e6e6e"],["PD-L1","+","#a00f12"]].forEach((d,i)=>{
  svg.append("circle").attr("cx",448).attr("cy",881+i*10.5).attr("r",2.4).attr("fill",d[2]);
  supT(452,885+i*10.5,d[0],d[1]);
});
ylab(198,921,"relative expression");
</script>
</body></html>
